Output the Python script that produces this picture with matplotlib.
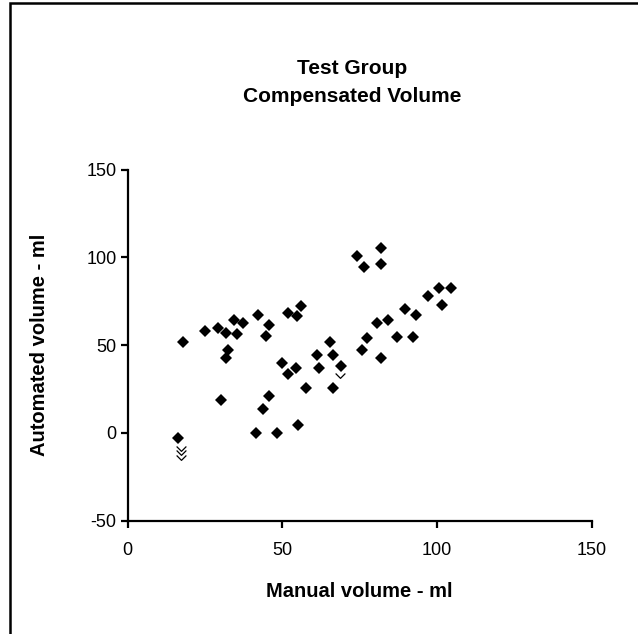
import matplotlib.pyplot as plt
from matplotlib.patches import Rectangle
from matplotlib.path import Path

plt.rcParams['font.family'] = ['Liberation Sans', 'DejaVu Sans']
plt.rcParams['axes.unicode_minus'] = False

# manual (x) vs automated (y) volume, ml
manual = [18.0, 25.0, 29.1, 34.5, 31.8, 35.4, 37.4, 32.5, 31.8, 30.2, 16.4,
          42.1, 45.7, 44.7, 51.7, 56.0, 54.6, 50.0, 51.7, 54.4, 57.6, 45.7,
          43.8, 41.4, 48.2, 55.1, 61.2, 65.4, 66.3, 61.9, 68.8, 66.3, 74.0,
          76.5, 81.9, 81.8, 80.7, 84.2, 77.4, 75.6, 81.9, 86.9, 92.1, 89.6,
          93.1, 97.2, 100.7, 104.4, 101.7]
automated = [51.7, 58.0, 60.0, 64.1, 56.7, 56.1, 62.4, 47.5, 42.6, 18.5, -3.0,
             67.2, 61.5, 55.0, 68.5, 72.2, 66.6, 39.9, 33.6, 36.8, 25.8, 21.2,
             13.9, -0.2, -0.2, 4.6, 44.3, 51.9, 44.3, 36.7, 38.4, 25.8, 101.0,
             94.7, 105.4, 96.2, 62.4, 64.3, 53.8, 47.5, 42.8, 54.8, 54.8, 70.4,
             67.2, 78.1, 82.3, 82.3, 72.9]

# overlapped points that only show as chevron fragments
manual_hidden = [17.2, 17.2, 17.2, 68.6]
automated_hidden = [-7.5, -10.0, -12.5, 34.0]

chevron = Path([(-1, 0), (0, -1), (1, 0)], [Path.MOVETO, Path.LINETO, Path.LINETO])

fig = plt.figure(figsize=(6.38, 6.34), dpi=100)
ax = fig.add_axes([0.2002, 0.1787, 0.7272, 0.5538])

ax.plot(manual_hidden, automated_hidden, linestyle='none', marker=chevron,
        ms=7, mfc='none', mec='black', mew=0.9, zorder=2)
ax.plot(manual, automated, 'D', ms=6.0, color='black', mew=0, zorder=3)

ax.set_xlim(0, 150)
ax.set_ylim(-50, 150)
ax.set_xticks([0, 50, 100, 150])
ax.set_yticks([-50, 0, 50, 100, 150])
for s in ['top', 'right']:
    ax.spines[s].set_visible(False)
for s in ['left', 'bottom']:
    ax.spines[s].set_linewidth(1.6)
ax.tick_params(direction='out', length=5, width=1.6, labelsize=13)
ax.tick_params(axis='x', pad=10)
ax.tick_params(axis='y', pad=3)

ax.set_xlabel('Manual volume - ml', fontsize=14.5, fontweight='bold', labelpad=17)
ax.set_ylabel('Automated volume - ml', fontsize=14.5, fontweight='bold', labelpad=27)

fig.text(352 / 638, 1 - 68 / 634, 'Test Group', ha='center', va='center',
         fontsize=15, fontweight='bold')
fig.text(352 / 638, 1 - 97 / 634, 'Compensated Volume', ha='center', va='center',
         fontsize=15, fontweight='bold')

# chart area border (right and bottom edges fall outside the picture)
fig.patches.append(Rectangle((10 / 638, -0.2), 1.2, 1.2 - 3 / 634,
                             transform=fig.transFigure, fill=False,
                             edgecolor='black', linewidth=1.8))

fig.savefig('out.png', dpi=100)
